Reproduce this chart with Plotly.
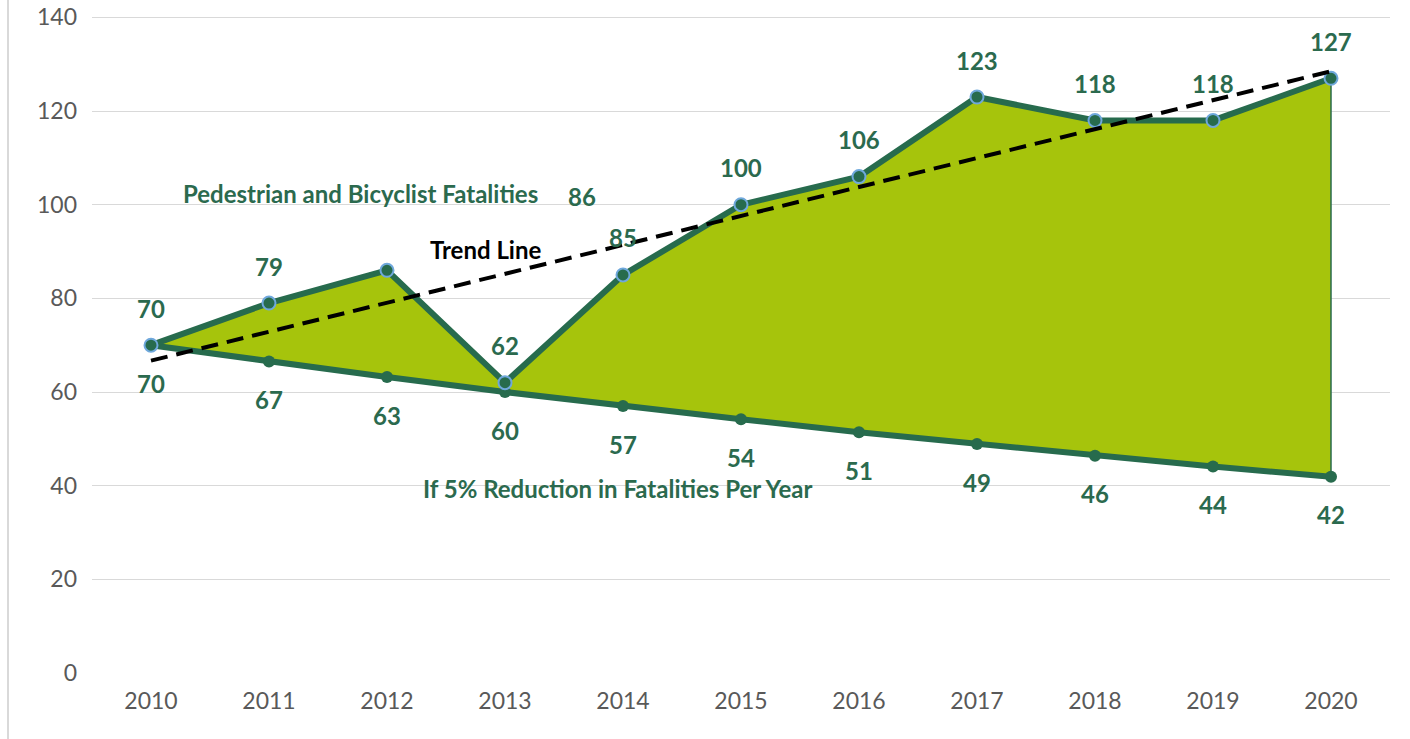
import math
import plotly.graph_objects as go

years = [2010, 2011, 2012, 2013, 2014, 2015, 2016, 2017, 2018, 2019, 2020]
fatalities = [70, 79, 86, 62, 85, 100, 106, 123, 118, 118, 127]
reduction = [70, 66.5, 63.2, 60.0, 57.0, 54.2, 51.4, 48.9, 46.4, 44.1, 41.9]
trend_x = [2010, 2020]
trend_y = [66.7, 128.5]
y_ticks = [0, 20, 40, 60, 80, 100, 120, 140]

DARK = "#276b4d"
LABEL = "#2b6a4e"
FILL = "#a6c40c"
FONT = "Lato, Open Sans, sans-serif"

fig = go.Figure()
# filled band between the two series
fig.add_trace(go.Scatter(x=years, y=reduction, mode="lines", line=dict(width=0),
                         hoverinfo="skip", showlegend=False))
fig.add_trace(go.Scatter(x=years, y=fatalities, mode="lines", line=dict(width=0),
                         fill="tonexty", fillcolor=FILL, hoverinfo="skip", showlegend=False))
# right edge of the area
fig.add_trace(go.Scatter(x=[years[-1], years[-1]], y=[reduction[-1], fatalities[-1]],
                         mode="lines", line=dict(color=DARK, width=1.5),
                         hoverinfo="skip", showlegend=False))
# reduction line
fig.add_trace(go.Scatter(x=years, y=reduction, mode="lines+markers",
                         line=dict(color=DARK, width=6),
                         marker=dict(size=12, color=DARK, line=dict(width=0)),
                         showlegend=False))
# fatalities line
fig.add_trace(go.Scatter(x=years, y=fatalities, mode="lines+markers",
                         line=dict(color=DARK, width=6),
                         marker=dict(size=13, color=DARK, line=dict(color="#6fa8dc", width=2)),
                         showlegend=False))
# trend line
fig.add_trace(go.Scatter(x=trend_x, y=trend_y, mode="lines",
                         line=dict(color="black", width=4, dash="17px,9px"),
                         showlegend=False))

annotations = []
label_font = dict(family=FONT, size=24, color=LABEL, weight="bold")
special = {2: (195, 74)}  # displaced label for 2012
for i, (x, v) in enumerate(zip(years, fatalities)):
    xs, ys = special.get(i, (0, 37))
    annotations.append(dict(x=x, y=v, text=str(v), showarrow=False, xshift=xs, yshift=ys,
                            xanchor="center", yanchor="middle", font=label_font))
for x, v in zip(years, reduction):
    annotations.append(dict(x=x, y=v, text=str(int(math.floor(v + 0.5))), showarrow=False,
                            yshift=-38, xanchor="center", yanchor="middle", font=label_font))

annotations += [
    dict(xref="paper", yref="paper", x=0.207, y=0.730, text="Pedestrian and Bicyclist Fatalities",
         showarrow=False, xanchor="center", yanchor="middle", font=label_font),
    dict(xref="paper", yref="paper", x=0.3035, y=0.645, text="Trend Line",
         showarrow=False, xanchor="center", yanchor="middle",
         font=dict(family=FONT, size=24, color="black", weight="bold")),
    dict(xref="paper", yref="paper", x=0.4045, y=0.2805, text="If 5% Reduction in Fatalities Per Year",
         showarrow=False, xanchor="center", yanchor="middle", font=label_font),
]

fig.update_layout(
    width=1410, height=739,
    margin=dict(l=92, r=20, t=16, b=66),
    paper_bgcolor="white", plot_bgcolor="white",
    font=dict(family=FONT, size=23, color="#595959"),
    annotations=annotations,
    shapes=[dict(type="line", xref="paper", yref="paper", x0=-0.0647, x1=-0.0647,
                 y0=-0.2, y1=1.1, line=dict(color="#d9d9d9", width=2))],
    xaxis=dict(range=[2009.5, 2020.5], tickmode="array", tickvals=years,
               ticktext=[str(y) for y in years], showgrid=False, zeroline=False,
               showline=False, ticks="", ticklabelstandoff=12, fixedrange=True,
               automargin=False),
    yaxis=dict(range=[0, 140.3], tickmode="array", tickvals=y_ticks, showgrid=True,
               gridcolor="#d9d9d9", gridwidth=1.3, zeroline=False, showline=False,
               ticks="", ticklabelstandoff=14, fixedrange=True, automargin=False),
    showlegend=False,
)

fig.write_html("out.html", config={"displayModeBar": False},
               post_script="document.body.style.margin='0';document.body.style.overflow='hidden';")
